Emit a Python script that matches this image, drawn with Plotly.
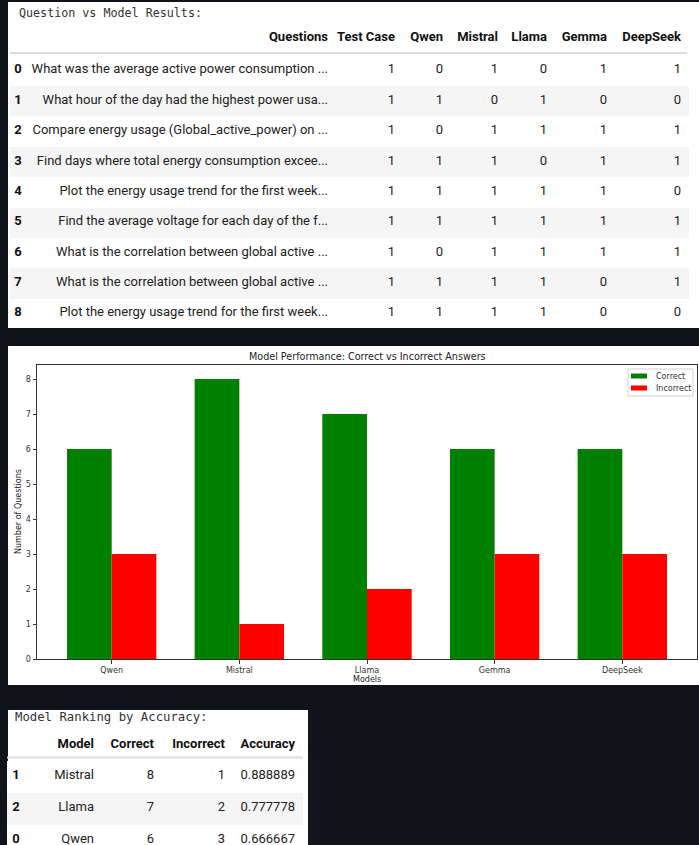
import plotly.graph_objects as go

W, H = 699, 845
# the capture viewport is slightly taller than the figure area it is scaled to;
# the page is laid out 850 px tall so it maps onto the 845 px reference grid.
PAGE_H = 850
S = PAGE_H / H


def px(x):
    return x / W


def py(y):
    return 1 - y / H


# ---------------- data: question vs model table ----------------
row_index = [0, 1, 2, 3, 4, 5, 6, 7, 8]
questions = [
    "What was the average active power consumption ...",
    "What hour of the day had the highest power usa...",
    "Compare energy usage (Global_active_power) on ...",
    "Find days where total energy consumption excee...",
    "Plot the energy usage trend for the first week...",
    "Find the average voltage for each day of the f...",
    "What is the correlation between global active ...",
    "What is the correlation between global active ...",
    "Plot the energy usage trend for the first week...",
]
test_case = [1, 1, 1, 1, 1, 1, 1, 1, 1]
qwen = [0, 1, 0, 1, 1, 1, 0, 1, 1]
mistral = [1, 0, 1, 1, 1, 1, 1, 1, 1]
llama = [0, 1, 1, 0, 1, 1, 1, 1, 1]
gemma = [1, 0, 1, 1, 1, 1, 1, 0, 0]
deepseek = [1, 0, 1, 1, 0, 1, 1, 1, 0]
table1_headers = ["", "Questions", "Test Case", "Qwen", "Mistral", "Llama", "Gemma", "DeepSeek"]

# ---------------- data: bar chart ----------------
models = ["Qwen", "Mistral", "Llama", "Gemma", "DeepSeek"]
correct = [6, 8, 7, 6, 6]
incorrect = [3, 1, 2, 3, 3]
series_names = ["Correct", "Incorrect"]
series_colors = ["#008000", "#ff0000"]

# ---------------- data: ranking table ----------------
rank_index = [1, 2, 0]
rank_model = ["Mistral", "Llama", "Qwen"]
rank_correct = [8, 7, 6]
rank_incorrect = [1, 2, 3]
rank_accuracy = ["0.888889", "0.777778", "0.666667"]
table2_headers = ["", "Model", "Correct", "Incorrect", "Accuracy"]

BG = "#10131a"
TXT = "#222222"
STRIPE = "#f5f5f5"
TFONT = "Roboto"
MONO = "DejaVu Sans Mono"
MPL = "DejaVu Sans"
NB = "\u00a0"


def nb(s):
    return str(s).replace(" ", NB)


fig = go.Figure()

# ---------- table 1 ----------
n1 = len(table1_headers)
fill1 = [("white" if i % 2 == 0 else STRIPE) for i in range(len(row_index))]
fig.add_trace(go.Table(
    domain=dict(x=[px(10), px(689)], y=[py(328), py(23.5)]),
    columnwidth=[16, 310, 67, 48, 55, 49, 60, 74],
    header=dict(
        values=[nb(h) for h in table1_headers],
        align=["center"] + ["right"] * (n1 - 1),
        fill=dict(color="rgba(0,0,0,0)"),
        line=dict(width=0, color="rgba(0,0,0,0)"),
        font=dict(family=TFONT, size=13, color="#111", weight="bold"),
        height=32 * S,
    ),
    cells=dict(
        values=[row_index, [nb(q) for q in questions], test_case, qwen,
                mistral, llama, gemma, deepseek],
        align=["center"] + ["right"] * (n1 - 1),
        fill=dict(color=[fill1] * n1),
        line=dict(width=0, color="rgba(0,0,0,0)"),
        font=dict(family=TFONT, size=13, color=["#111"] + [TXT] * (n1 - 1),
                  weight=["bold"] + ["normal"] * (n1 - 1)),
        height=30.2 * S,
    ),
))

# ---------- bar chart ----------
fig.add_trace(go.Bar(
    x=models, y=correct, name=series_names[0],
    marker=dict(color=series_colors[0], line=dict(width=0)),
    width=0.35, offset=-0.35, xaxis="x", yaxis="y", showlegend=False,
))
fig.add_trace(go.Bar(
    x=models, y=incorrect, name=series_names[1],
    marker=dict(color=series_colors[1], line=dict(width=0)),
    width=0.35, offset=0, xaxis="x", yaxis="y", showlegend=False,
))

# ---------- table 2 ----------
n2 = len(table2_headers)
fill2 = [("white" if i % 2 == 0 else STRIPE) for i in range(len(rank_index))]
fig.add_trace(go.Table(
    domain=dict(x=[px(7), px(303)], y=[0, py(730)]),
    columnwidth=[18, 77, 60, 71, 70],
    header=dict(
        values=[nb(h) for h in table2_headers],
        align=["center"] + ["right"] * (n2 - 1),
        fill=dict(color="rgba(0,0,0,0)"),
        line=dict(width=0, color="rgba(0,0,0,0)"),
        font=dict(family=TFONT, size=13, color="#111", weight="bold"),
        height=31 * S,
    ),
    cells=dict(
        values=[rank_index, rank_model, rank_correct, rank_incorrect, rank_accuracy],
        align=["center"] + ["right"] * (n2 - 1),
        fill=dict(color=[fill2] * n2),
        line=dict(width=0, color="rgba(0,0,0,0)"),
        font=dict(family=TFONT, size=13, color=["#111"] + [TXT] * (n2 - 1),
                  weight=["bold"] + ["normal"] * (n2 - 1)),
        height=31.7 * S,
    ),
))

axis_common = dict(
    showline=True, linecolor="#333", linewidth=1, mirror=True,
    ticks="outside", ticklen=3.5, tickwidth=1, tickcolor="#333",
    tickfont=dict(family=MPL, size=8, color="#333"),
    showgrid=False, zeroline=False,
)

# matplotlib-style legend (box, swatches, labels)
legend_shapes = [
    dict(type="rect", xref="paper", yref="paper", x0=px(628), x1=px(693), y0=py(396), y1=py(369),
         fillcolor="white", line=dict(color="#d0d0d0", width=1), layer="above"),
]
legend_annots = []
for k, (nm, col) in enumerate(zip(series_names, series_colors)):
    yc = 376 + 12 * k
    legend_shapes.append(
        dict(type="rect", xref="paper", yref="paper", x0=px(631), x1=px(647),
             y0=py(yc + 2.5), y1=py(yc - 2.5), fillcolor=col, line=dict(width=0), layer="above"))
    legend_annots.append(
        dict(text=nm, xref="paper", yref="paper", x=px(654), y=py(yc), xanchor="left",
             yanchor="middle", showarrow=False, font=dict(family=MPL, size=8, color="#333")))

fig.update_layout(
    width=W, height=PAGE_H, autosize=False,
    margin=dict(l=0, r=0, t=0, b=0),
    paper_bgcolor=BG, plot_bgcolor="white",
    showlegend=False,
    barmode="overlay",
    xaxis=dict(domain=[px(37), px(697)], anchor="y", range=[-0.585, 4.585],
               type="category", **axis_common),
    yaxis=dict(domain=[py(659), py(365)], anchor="x", range=[0, 8.4], dtick=1,
               **axis_common),
    shapes=[
        dict(type="rect", xref="paper", yref="paper", x0=px(8), x1=1, y0=py(328), y1=py(2),
             fillcolor="white", line=dict(width=0), layer="below"),
        dict(type="rect", xref="paper", yref="paper", x0=px(8), x1=1, y0=py(685), y1=py(346),
             fillcolor="white", line=dict(width=0), layer="below"),
        dict(type="rect", xref="paper", yref="paper", x0=px(8), x1=px(308), y0=0, y1=py(710),
             fillcolor="white", line=dict(width=0), layer="below"),
        dict(type="line", xref="paper", yref="paper", x0=px(10), x1=px(687), y0=py(53), y1=py(53),
             line=dict(color="#dddddd", width=2), layer="below"),
        dict(type="line", xref="paper", yref="paper", x0=px(7), x1=px(303), y0=py(757.5), y1=py(757.5),
             line=dict(color="#dddddd", width=2), layer="below"),
    ] + legend_shapes,
    annotations=[
        dict(text="Question vs Model Results:", xref="paper", yref="paper", x=px(17), y=py(13),
             xanchor="left", yanchor="middle", showarrow=False,
             font=dict(family=MONO, size=11.7, color="#333")),
        dict(text="Model Ranking by Accuracy:", xref="paper", yref="paper", x=px(13), y=py(717),
             xanchor="left", yanchor="middle", showarrow=False,
             font=dict(family=MONO, size=12.3, color="#333")),
        dict(text="Model Performance: Correct vs Incorrect Answers", xref="paper", yref="paper",
             x=px(367), y=py(356), xanchor="center", yanchor="middle", showarrow=False,
             font=dict(family=MPL, size=9.6, color="#222")),
        dict(text="Models", xref="paper", yref="paper", x=px(367), y=py(679),
             xanchor="center", yanchor="middle", showarrow=False,
             font=dict(family=MPL, size=8, color="#222")),
        dict(text="Number of Questions", xref="paper", yref="paper", x=px(18), y=py(512),
             xanchor="center", yanchor="middle", showarrow=False, textangle=-90,
             font=dict(family=MPL, size=8, color="#222")),
    ] + legend_annots,
)

fig.write_html(
    "out.html",
    config={"displayModeBar": False},
    post_script=(
        "var s='margin:0;padding:0;overflow:hidden;background:" + BG + ";';"
        "document.documentElement.style.cssText=s;"
        "document.body.style.cssText=s;"
    ),
)
